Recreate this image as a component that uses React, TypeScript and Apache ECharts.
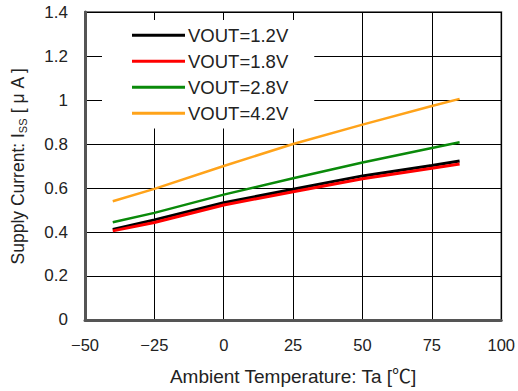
import React, { useEffect, useRef } from "react";
import * as echarts from "echarts";

const temps = [-40, -25, 0, 25, 50, 75, 85];
const v12 = [0.412, 0.455, 0.533, 0.594, 0.655, 0.702, 0.723];
const v18 = [0.405, 0.443, 0.523, 0.583, 0.642, 0.69, 0.709];
const v28 = [0.444, 0.487, 0.57, 0.644, 0.716, 0.782, 0.808];
const v42 = [0.54, 0.596, 0.7, 0.8, 0.888, 0.973, 1.005];
const seriesNames = ["VOUT=1.2V", "VOUT=1.8V", "VOUT=2.8V", "VOUT=4.2V"];
const seriesColors = ["#000000", "#ff0000", "#0a8a0a", "#ffa31a"];
const seriesWidths = [3, 3, 2.5, 2.5];
const seriesValues = [v12, v18, v28, v42];

const FONT = "'Liberation Sans', 'Noto Sans CJK JP', sans-serif";
const TXT = "#222";

export default function App() {
  const ref = useRef<HTMLDivElement>(null);
  useEffect(() => {
    const chart = echarts.init(ref.current!, null, { renderer: "svg" });
    chart.setOption({
      animation: false,
      textStyle: { fontFamily: FONT },
      grid: {
        left: 85,
        top: 12,
        right: 16,
        bottom: 71,
        show: true,
        borderColor: "#777",
        borderWidth: 2,
        backgroundColor: "#fff",
      },
      legend: {
        orient: "vertical",
        left: 102,
        top: 20,
        padding: [6, 26, 6, 30],
        backgroundColor: "#fff",
        icon: "rect",
        itemWidth: 53,
        itemHeight: 3,
        itemGap: 7.5,
        textStyle: { fontSize: 18.5, color: TXT, fontFamily: FONT, lineHeight: 18, padding: [0, 0, 0, -2] },
        data: seriesNames,
        z: 10,
      },
      xAxis: {
        type: "value",
        min: -50,
        max: 100,
        interval: 25,
        name: "Ambient Temperature: Ta [℃]",
        nameLocation: "middle",
        nameGap: 47,
        nameTextStyle: { fontSize: 19, color: TXT, fontFamily: FONT },
        axisLine: { show: true, onZero: false, lineStyle: { color: "#555", width: 3 } },
        axisTick: { show: false },
        splitLine: { show: true, lineStyle: { color: "#000", width: 1 } },
        axisLabel: {
          fontSize: 16.5,
          color: TXT,
          margin: 17,
          formatter: (v: number) => String(v).replace("-", "−"),
        },
      },
      yAxis: {
        type: "value",
        min: 0,
        max: 1.4,
        interval: 0.2,
        name: "{a|Supply Current: I}{b|SS}{a| [ μ A ]}",
        nameLocation: "middle",
        nameRotate: 90,
        nameGap: 57,
        nameTextStyle: {
          color: TXT,
          rich: {
            a: { fontSize: 17.5, color: TXT, fontFamily: FONT, lineHeight: 20 },
            b: { fontSize: 11, color: TXT, fontFamily: FONT, verticalAlign: "bottom", lineHeight: 20 },
          },
        },
        axisLine: { show: true, onZero: false, lineStyle: { color: "#555", width: 3 } },
        axisTick: { show: false },
        splitLine: { show: true, lineStyle: { color: "#000", width: 1 } },
        axisLabel: {
          fontSize: 17,
          color: TXT,
          margin: 17,
          formatter: (v: number) => String(Math.round(v * 10) / 10),
        },
      },
      series: seriesNames.map((name, i) => ({
        name,
        type: "line",
        symbol: "none",
        color: seriesColors[i],
        lineStyle: { color: seriesColors[i], width: seriesWidths[i] },
        data: temps.map((t, j) => [t, seriesValues[i][j]]),
        z: 2 + i,
      })),
    });
    return () => chart.dispose();
  }, []);
  return (
    <div
      ref={ref}
      style={{ position: "absolute", left: 0, top: 0, width: 518, height: 391 }}
    />
  );
}
